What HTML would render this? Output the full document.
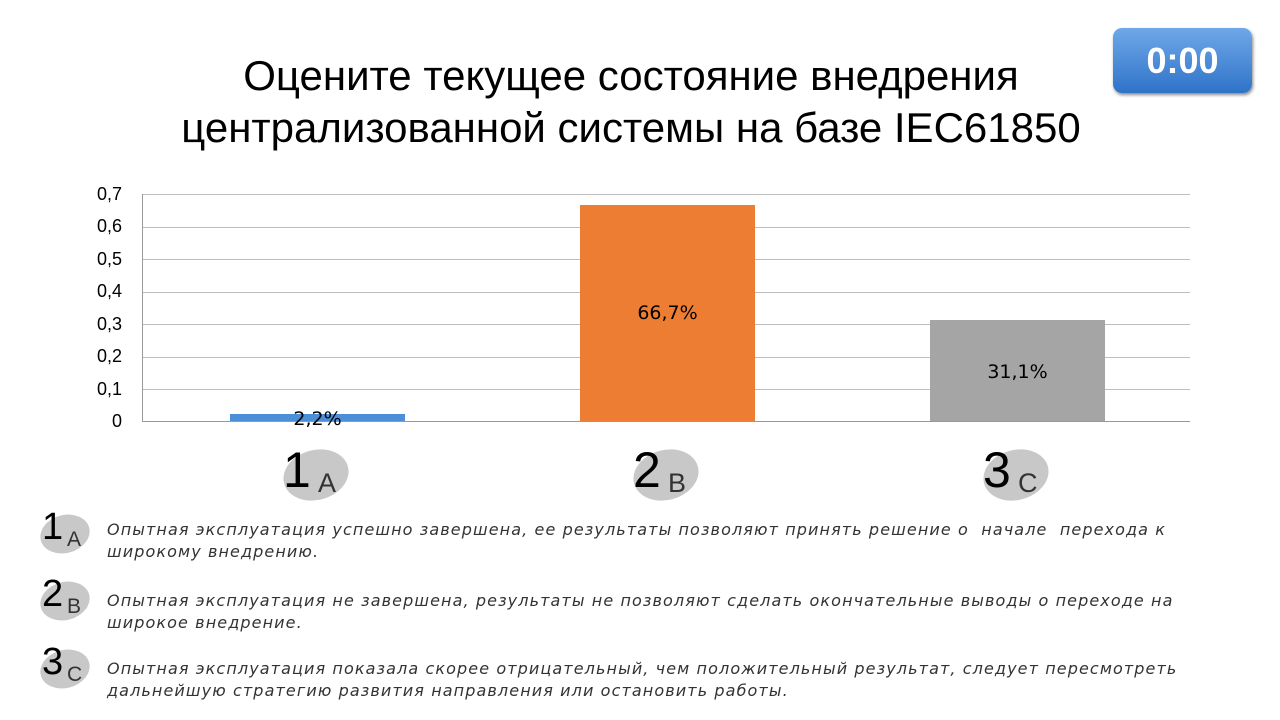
<!DOCTYPE html>
<html><head><meta charset="utf-8"><style>
body{margin:0;width:1280px;height:720px;background:#fff;position:relative;overflow:hidden;font-family:"Liberation Sans",sans-serif}
.t{position:absolute;left:0;width:1262px;text-align:center;font-size:42px;color:#000;line-height:52px}
.timer{position:absolute;left:1113px;top:28px;width:139px;height:65px;border-radius:9px;background:linear-gradient(#6fa8e8,#2f73c9);color:#fff;font-weight:bold;font-size:36px;text-align:center;line-height:65px;box-shadow:1px 2px 3px #888}
.gl{position:absolute;left:142px;width:1048px;height:1px;background:#bdbdbd}
.yl{position:absolute;left:60px;width:62px;text-align:right;font-size:18px;color:#000}
.bar{position:absolute}
.bl{position:absolute;font-size:19px;text-align:center;width:175px;font-family:"DejaVu Sans",sans-serif}
.el{position:absolute;background:#c8c8c8;border-radius:50%;transform:rotate(-15deg)}
.big{position:absolute;font-size:50px;color:#000}
.sub{position:absolute;font-size:27px;color:#333}
.desc{position:absolute;left:107px;font-size:16px;font-style:italic;color:#333;line-height:22px;letter-spacing:1.1px;font-family:"DejaVu Sans",sans-serif}
</style></head><body>
<div class="t" style="top:50px">Оцените текущее состояние внедрения<br>централизованной системы на базе IEC61850</div>
<div class="timer">0:00</div>
<div class="gl" style="top:194px"></div><div class="gl" style="top:227px"></div><div class="gl" style="top:259px"></div><div class="gl" style="top:292px"></div><div class="gl" style="top:324px"></div><div class="gl" style="top:357px"></div><div class="gl" style="top:389px"></div><div class="gl" style="top:421px;background:#999"></div>
<div style="position:absolute;left:142px;top:194px;width:1px;height:228px;background:#999"></div>
<div class="yl" style="top:184px">0,7</div><div class="yl" style="top:216px">0,6</div><div class="yl" style="top:249px">0,5</div><div class="yl" style="top:281px">0,4</div><div class="yl" style="top:314px">0,3</div><div class="yl" style="top:346px">0,2</div><div class="yl" style="top:379px">0,1</div><div class="yl" style="top:411px">0</div>
<div class="bar" style="left:230px;top:414px;width:175px;height:7px;background:#4a8fd8"></div>
<div class="bar" style="left:580px;top:205px;width:175px;height:216px;background:#ee7d34"></div>
<div class="bar" style="left:930px;top:320px;width:175px;height:101px;background:#a5a5a5"></div>
<div class="bl" style="left:230px;top:408px">2,2%</div>
<div class="bl" style="left:580px;top:302px">66,7%</div>
<div class="bl" style="left:930px;top:361px">31,1%</div>

<div class="el" style="left:283px;top:450px;width:66px;height:50px"></div><div class="big" style="left:283px;top:441px">1</div><div class="sub" style="left:318px;top:468px">A</div>
<div class="el" style="left:633px;top:450px;width:66px;height:50px"></div><div class="big" style="left:633px;top:441px">2</div><div class="sub" style="left:668px;top:468px">B</div>
<div class="el" style="left:983px;top:450px;width:66px;height:50px"></div><div class="big" style="left:983px;top:441px">3</div><div class="sub" style="left:1018px;top:468px">C</div>

<div class="el" style="left:40px;top:515px;width:50px;height:38px"></div><div class="big" style="left:42px;top:506px;font-size:38px">1</div><div class="sub" style="left:67px;top:528px;font-size:21px">A</div>
<div class="el" style="left:40px;top:582px;width:50px;height:38px"></div><div class="big" style="left:42px;top:573px;font-size:38px">2</div><div class="sub" style="left:67px;top:595px;font-size:21px">B</div>
<div class="el" style="left:40px;top:650px;width:50px;height:38px"></div><div class="big" style="left:42px;top:641px;font-size:38px">3</div><div class="sub" style="left:67px;top:663px;font-size:21px">C</div>

<div class="desc" style="top:519px">Опытная эксплуатация успешно завершена, ее результаты позволяют принять решение о&nbsp; начале&nbsp; перехода к<br>широкому внедрению.</div>
<div class="desc" style="top:590px">Опытная эксплуатация не завершена, результаты не позволяют сделать окончательные выводы о переходе на<br>широкое внедрение.</div>
<div class="desc" style="top:658px">Опытная эксплуатация показала скорее отрицательный, чем положительный результат, следует пересмотреть<br>дальнейшую стратегию развития направления или остановить работы.</div>
</body></html>
